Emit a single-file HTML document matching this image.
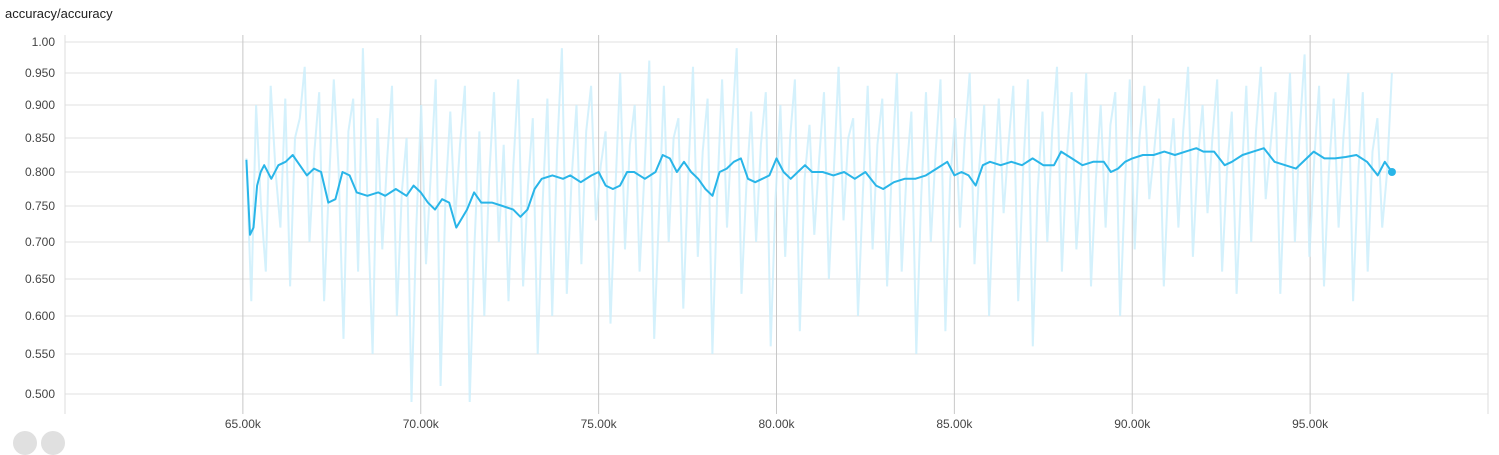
<!DOCTYPE html>
<html><head><meta charset="utf-8"><style>
html,body{margin:0;padding:0;background:#fff;width:1499px;height:439px;overflow:hidden;font-family:"Liberation Sans",sans-serif}
#title{position:absolute;left:5px;top:6px;font-size:13px;color:#212121}
svg{position:absolute;left:0;top:0}
.dot{position:absolute;top:431px;width:24px;height:24px;border-radius:50%;background:#e0e0e0}
</style></head><body>
<div id="title">accuracy/accuracy</div>
<svg id="chart" width="1499" height="439"></svg>
<div class="dot" style="left:13px"></div>
<div class="dot" style="left:41px"></div>
<script>
const yTickVals=[1.0,0.95,0.9,0.85,0.8,0.75,0.7,0.65,0.6,0.55,0.5];
const yTickLabels=["1.00","0.950","0.900","0.850","0.800","0.750","0.700","0.650","0.600","0.550","0.500"];
const xTickVals=[65,70,75,80,85,90,95];
const xTickLabels=["65.00k","70.00k","75.00k","80.00k","85.00k","90.00k","95.00k"];
const smoothSteps=[65.1,65.2,65.3,65.4,65.5,65.6,65.8,66.0,66.2,66.4,66.6,66.8,67.0,67.2,67.4,67.6,67.8,68.0,68.2,68.5,68.8,69.0,69.3,69.6,69.8,70.0,70.2,70.4,70.6,70.8,71.0,71.3,71.5,71.7,72.0,72.3,72.6,72.8,73.0,73.2,73.4,73.7,74.0,74.2,74.5,74.8,75.0,75.2,75.4,75.6,75.8,76.0,76.3,76.6,76.8,77.0,77.2,77.4,77.6,77.8,78.0,78.2,78.4,78.6,78.8,79.0,79.2,79.4,79.6,79.8,80.0,80.2,80.4,80.6,80.8,81.0,81.3,81.6,81.9,82.2,82.5,82.8,83.0,83.3,83.6,83.9,84.2,84.5,84.8,85.0,85.2,85.4,85.6,85.8,86.0,86.3,86.6,86.9,87.2,87.5,87.8,88.0,88.3,88.6,88.9,89.2,89.4,89.6,89.8,90.0,90.3,90.6,90.9,91.2,91.5,91.8,92.0,92.3,92.6,92.8,93.1,93.4,93.7,94.0,94.3,94.6,94.9,95.1,95.4,95.7,96.0,96.3,96.6,96.9,97.1,97.3];
const smoothVals=[0.818,0.71,0.72,0.78,0.80,0.81,0.79,0.81,0.815,0.825,0.81,0.795,0.805,0.80,0.755,0.76,0.80,0.795,0.77,0.765,0.77,0.765,0.775,0.765,0.78,0.77,0.755,0.745,0.76,0.755,0.72,0.745,0.77,0.755,0.755,0.75,0.745,0.735,0.745,0.775,0.79,0.795,0.79,0.795,0.785,0.795,0.80,0.78,0.775,0.78,0.80,0.80,0.79,0.80,0.825,0.82,0.80,0.815,0.80,0.79,0.775,0.765,0.80,0.805,0.815,0.82,0.79,0.785,0.79,0.795,0.82,0.80,0.79,0.80,0.81,0.80,0.80,0.795,0.80,0.79,0.80,0.78,0.775,0.785,0.79,0.79,0.795,0.805,0.815,0.795,0.80,0.795,0.78,0.81,0.815,0.81,0.815,0.81,0.82,0.81,0.81,0.83,0.82,0.81,0.815,0.815,0.80,0.805,0.815,0.82,0.825,0.825,0.83,0.825,0.83,0.835,0.83,0.83,0.81,0.815,0.825,0.83,0.835,0.815,0.81,0.805,0.82,0.83,0.82,0.82,0.822,0.825,0.815,0.795,0.815,0.80];
const rawStart=65.1, rawEnd=97.3;
const rawVals=[0.82,0.62,0.90,0.75,0.66,0.93,0.80,0.72,0.91,0.64,0.85,0.88,0.96,0.70,0.83,0.92,0.62,0.78,0.94,0.80,0.57,0.86,0.91,0.66,0.99,0.74,0.55,0.88,0.69,0.82,0.93,0.60,0.77,0.85,0.49,0.72,0.90,0.67,0.80,0.94,0.51,0.76,0.89,0.73,0.84,0.93,0.49,0.70,0.86,0.60,0.79,0.92,0.70,0.84,0.62,0.81,0.94,0.64,0.78,0.88,0.55,0.75,0.91,0.60,0.83,0.99,0.63,0.79,0.90,0.67,0.86,0.93,0.73,0.81,0.86,0.59,0.77,0.95,0.69,0.84,0.90,0.66,0.80,0.97,0.57,0.74,0.93,0.70,0.85,0.88,0.61,0.79,0.96,0.68,0.83,0.91,0.55,0.77,0.94,0.72,0.86,0.99,0.63,0.78,0.89,0.70,0.84,0.92,0.56,0.76,0.90,0.68,0.85,0.94,0.58,0.79,0.87,0.71,0.82,0.92,0.65,0.80,0.96,0.73,0.85,0.88,0.60,0.77,0.93,0.69,0.84,0.91,0.64,0.81,0.95,0.66,0.80,0.89,0.55,0.76,0.92,0.70,0.83,0.94,0.58,0.79,0.88,0.72,0.85,0.95,0.67,0.81,0.90,0.60,0.78,0.91,0.74,0.84,0.93,0.62,0.80,0.94,0.56,0.77,0.89,0.70,0.86,0.96,0.66,0.82,0.92,0.69,0.80,0.95,0.64,0.79,0.90,0.72,0.87,0.92,0.60,0.78,0.94,0.69,0.85,0.93,0.76,0.83,0.91,0.64,0.80,0.88,0.72,0.86,0.96,0.68,0.82,0.90,0.74,0.85,0.94,0.66,0.80,0.89,0.63,0.79,0.93,0.70,0.86,0.96,0.76,0.84,0.92,0.63,0.81,0.95,0.70,0.86,0.98,0.68,0.82,0.93,0.64,0.80,0.91,0.72,0.85,0.95,0.62,0.79,0.92,0.66,0.83,0.88,0.72,0.80,0.95];
const L=65,R=1488,X0=60,X1=100;
const yTickPx=[42,73,105,138,172,206,242,279,316,354,394];
function xs(v){return L+(v-X0)/(X1-X0)*(R-L);}
function ys(v){for(let i=0;i<yTickVals.length-1;i++){const a=yTickVals[i],b=yTickVals[i+1];if(v>=b||i===yTickVals.length-2){return yTickPx[i]+(a-v)/(a-b)*(yTickPx[i+1]-yTickPx[i]);}}}
const svg=document.getElementById('chart');const NS='http://www.w3.org/2000/svg';
function mk(t,a){const e=document.createElementNS(NS,t);for(const k in a)e.setAttribute(k,a[k]);svg.appendChild(e);return e;}
yTickVals.forEach((v,i)=>{const y=ys(v);
const g=mk('line',{x1:L,x2:R,y1:y,y2:y,stroke:'#e0e0e0','stroke-width':1});


const t=mk('text',{x:55,y:y+4,'text-anchor':'end','font-size':12,fill:'#444','font-family':'Liberation Sans, sans-serif'});t.textContent=yTickLabels[i];

});
[L,R].forEach(x=>{const g=mk('line',{x1:x,x2:x,y1:35,y2:414,stroke:'#ddd'});

});
xTickVals.forEach((v,i)=>{const x=xs(v);
const g=mk('line',{x1:x,x2:x,y1:35,y2:414,stroke:'#c8c8c8'});


const t=mk('text',{x:x,y:428,'text-anchor':'middle','font-size':12,fill:'#444','font-family':'Liberation Sans, sans-serif'});t.textContent=xTickLabels[i];

});
const rStep=(rawEnd-rawStart)/(rawVals.length-1);
const rp=rawVals.map((v,i)=>xs(rawStart+i*rStep).toFixed(1)+','+ys(v).toFixed(1)).join(' ');
const raw=mk('polyline',{points:rp,fill:'none',stroke:'#cdeefb','stroke-width':2,'stroke-opacity':0.85});


const sp=smoothVals.map((v,i)=>xs(smoothSteps[i]).toFixed(1)+','+ys(v).toFixed(1)).join(' ');
const sm=mk('polyline',{points:sp,fill:'none',stroke:'#29b5e8','stroke-width':2,'stroke-linejoin':'round'});


const n=smoothVals.length-1;
const d=mk('circle',{cx:xs(smoothSteps[n]),cy:ys(smoothVals[n]),r:4,fill:'#29b5e8'});


</script>
</body></html>
